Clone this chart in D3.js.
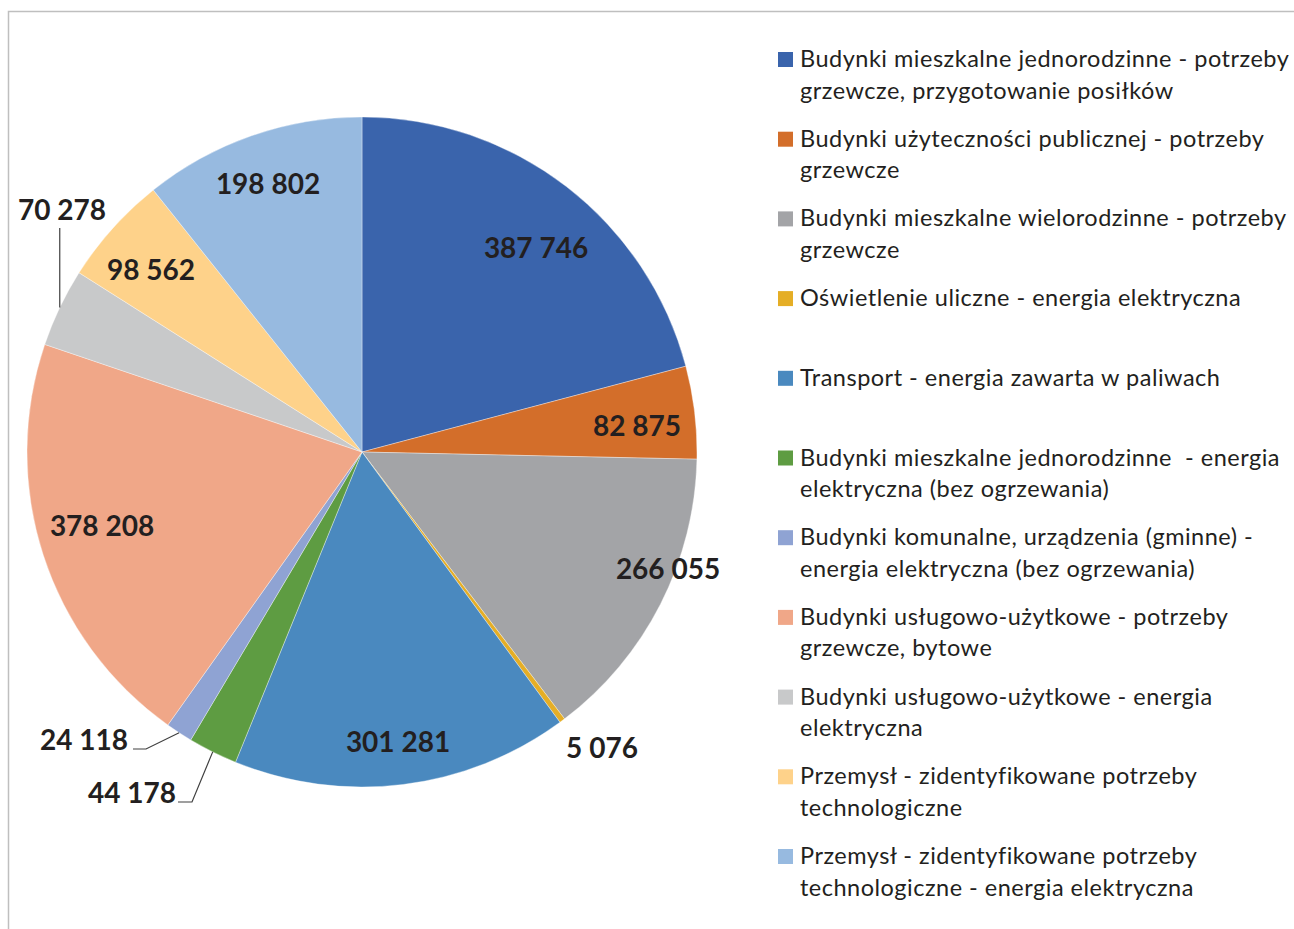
<!DOCTYPE html>
<html>
<head>
<meta charset="utf-8">
<script src="https://cdn.jsdelivr.net/npm/d3@7"></script>
<style>
  html, body { margin: 0; padding: 0; background: #fff; }
  svg { display: block; }
  text { white-space: pre; }
</style>
</head>
<body>
<svg id="chart" width="1294" height="929"></svg>
<script>
// ---- data ----
const categories = [
  "Budynki mieszkalne jednorodzinne - potrzeby grzewcze, przygotowanie posiłków",
  "Budynki użyteczności publicznej - potrzeby grzewcze",
  "Budynki mieszkalne wielorodzinne - potrzeby grzewcze",
  "Oświetlenie uliczne - energia elektryczna",
  "Transport - energia zawarta w paliwach",
  "Budynki mieszkalne jednorodzinne  - energia elektryczna (bez ogrzewania)",
  "Budynki komunalne, urządzenia (gminne) - energia elektryczna (bez ogrzewania)",
  "Budynki usługowo-użytkowe - potrzeby grzewcze, bytowe",
  "Budynki usługowo-użytkowe - energia elektryczna",
  "Przemysł - zidentyfikowane potrzeby technologiczne",
  "Przemysł - zidentyfikowane potrzeby technologiczne - energia elektryczna"
];
const legendLines = [
  ["Budynki mieszkalne jednorodzinne - potrzeby", "grzewcze, przygotowanie posiłków"],
  ["Budynki użyteczności publicznej - potrzeby", "grzewcze"],
  ["Budynki mieszkalne wielorodzinne - potrzeby", "grzewcze"],
  ["Oświetlenie uliczne - energia elektryczna"],
  ["Transport - energia zawarta w paliwach"],
  ["Budynki mieszkalne jednorodzinne  - energia", "elektryczna (bez ogrzewania)"],
  ["Budynki komunalne, urządzenia (gminne) -", "energia elektryczna (bez ogrzewania)"],
  ["Budynki usługowo-użytkowe - potrzeby", "grzewcze, bytowe"],
  ["Budynki usługowo-użytkowe - energia", "elektryczna"],
  ["Przemysł - zidentyfikowane potrzeby", "technologiczne"],
  ["Przemysł - zidentyfikowane potrzeby", "technologiczne - energia elektryczna"]
];
const values = [387746, 82875, 266055, 5076, 301281, 44178, 24118, 378208, 70278, 98562, 198802];
const valueLabels = ["387 746", "82 875", "266 055", "5 076", "301 281", "44 178", "24 118", "378 208", "70 278", "98 562", "198 802"];

// ---- styling / layout ----
const colors = ["#3A64AC", "#D36E2A", "#A3A4A7", "#E5AE26", "#4A89BF", "#5E9C42",
                "#8FA3D3", "#F0A788", "#C8C9CA", "#FED28A", "#97BAE0"];
const labelLayout = [
  {x: 536, y: 248, anchor: "middle"},
  {x: 637, y: 426, anchor: "middle"},
  {x: 668, y: 569, anchor: "middle"},
  {x: 602, y: 748, anchor: "middle"},
  {x: 398, y: 742, anchor: "middle"},
  {x: 176, y: 793, anchor: "end", leader: {elbowX: 192, elbowY: 802, endX: 178}},
  {x: 128, y: 740, anchor: "end", leader: {elbowX: 146, elbowY: 749, endX: 133}},
  {x: 102, y: 526, anchor: "middle"},
  {x: 62,  y: 210, anchor: "middle", leader: {vertical: true, endY: 228}},
  {x: 151, y: 270, anchor: "middle"},
  {x: 268, y: 184, anchor: "middle"}
];

const cx = 362, cy = 452, R = 335;
const textColor = "#231F20";
const labelFont = "Lato, 'Open Sans', sans-serif";

const svg = d3.select("#chart");

// frame
svg.append("rect")
  .attr("x", 8.5).attr("y", 11.5)
  .attr("width", 1400).attr("height", 1000)
  .attr("fill", "#fff").attr("stroke", "#BFBFBF").attr("stroke-width", 1.5);

const data = values.map((v, i) => ({value: v, label: valueLabels[i], color: colors[i], cat: categories[i], i}));

const pie = d3.pie().value(d => d.value).sort(null);
const arcs = pie(data);
const arc = d3.arc().innerRadius(0).outerRadius(R);

const g = svg.append("g").attr("transform", `translate(${cx},${cy})`);
g.selectAll("path.slice")
  .data(arcs)
  .enter().append("path")
  .attr("class", "slice")
  .attr("d", arc)
  .attr("fill", d => d.data.color)
  .attr("stroke", "#ffffff")
  .attr("stroke-width", 0.6)
  .attr("stroke-opacity", 0.6);

// leader lines
const outerPoint = d => {
  const a = (d.startAngle + d.endAngle) / 2;
  return [cx + R * Math.sin(a), cy - R * Math.cos(a)];
};
arcs.forEach((d, i) => {
  const L = labelLayout[i];
  if (!L.leader) return;
  const [px, py] = outerPoint(d);
  const pts = L.leader.vertical
    ? [[px, py], [px, L.leader.endY]]
    : [[px, py], [L.leader.elbowX, L.leader.elbowY], [L.leader.endX, L.leader.elbowY]];
  svg.append("path")
    .attr("d", d3.line()(pts))
    .attr("fill", "none")
    .attr("stroke", "#404040")
    .attr("stroke-width", 1.2);
});

// value labels
svg.selectAll("text.val")
  .data(arcs)
  .enter().append("text")
  .attr("class", "val")
  .attr("x", (d, i) => labelLayout[i].x)
  .attr("y", (d, i) => labelLayout[i].y)
  .attr("dy", "0.36em")
  .attr("text-anchor", (d, i) => labelLayout[i].anchor)
  .attr("font-family", labelFont)
  .attr("font-weight", "bold")
  .attr("font-size", 28)
  .attr("fill", textColor)
  .text(d => d.data.label);

// legend
const legX = 778, legY0 = 67, legStep = 79.7, lineH = 31.5;
const leg = svg.append("g").attr("class", "legend");
const items = leg.selectAll("g.item")
  .data(data)
  .enter().append("g")
  .attr("class", "item")
  .attr("transform", (d, i) => `translate(${legX},${legY0 + i * legStep})`);
items.append("rect")
  .attr("x", 0).attr("y", -15)
  .attr("width", 15).attr("height", 15)
  .attr("fill", d => d.color);
items.each(function(d, i) {
  const t = d3.select(this).append("text")
    .attr("x", 22).attr("y", 0)
    .attr("font-family", labelFont)
    .attr("font-size", 23.5)
    .attr("letter-spacing", 0.5)
    .attr("fill", textColor);
  legendLines[i].forEach((ln, k) => {
    t.append("tspan").attr("x", 22).attr("y", k * lineH).text(ln);
  });
});
</script>
</body>
</html>
